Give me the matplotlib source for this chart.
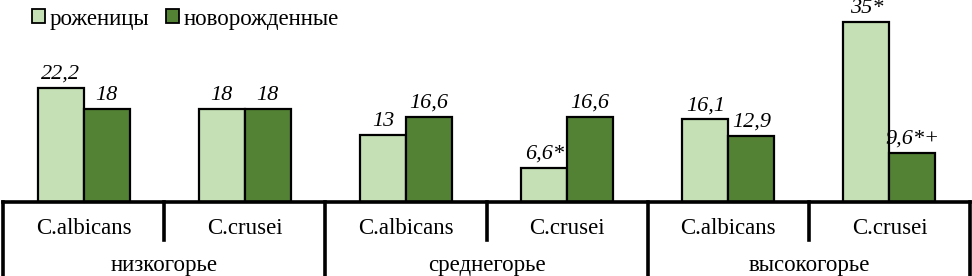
import matplotlib.pyplot as plt
import numpy as np
from matplotlib.patches import Patch
from matplotlib.transforms import blended_transform_factory

plt.rcParams['font.family'] = ['Liberation Serif', 'DejaVu Serif']

species = ["C.albicans", "C.crusei", "C.albicans", "C.crusei", "C.albicans", "C.crusei"]
zones = ["низкогорье", "среднегорье", "высокогорье"]
mothers = [22.2, 18, 13, 6.6, 16.1, 35]
newborns = [18, 18, 16.6, 16.6, 12.9, 9.6]
mothers_lbl = ["22,2", "18", "13", "6,6*", "16,1", "35*"]
newborns_lbl = ["18", "18", "16,6", "16,6", "12,9", "9,6*+"]
series_names = ["роженицы", "новорожденные"]

light = "#c5e0b4"
dark = "#548235"

W, H = 972, 276
fig = plt.figure(figsize=(W / 100, H / 100), dpi=100)
# axes: x from 3 to 970 px, y from 0 to 202 px (top)
ax = fig.add_axes([3 / W, (H - 202) / H, 967 / W, 202 / H])

x = np.arange(len(species))
bw = 0.285
ax.bar(x - bw / 2, mothers, bw, color=light, edgecolor="black", lw=1.6, zorder=2)
ax.bar(x + bw / 2, newborns, bw, color=dark, edgecolor="black", lw=1.6, zorder=2)

for xi, v, t in zip(x, mothers, mothers_lbl):
    ax.text(xi - bw / 2, v + 0.8, t, ha="center", va="bottom",
            fontsize=16, style="italic")
for xi, v, t in zip(x, newborns, newborns_lbl):
    ax.text(xi + bw / 2, v + 0.8, t, ha="center", va="bottom",
            fontsize=16, style="italic")

ax.set_xlim(-0.5, len(species) - 0.5)
ax.set_ylim(0, 39.3)
ax.axis("off")

# baseline and category frame below the plot
tr = blended_transform_factory(ax.transData, fig.transFigure)
def fy(py):
    return 1 - py / H

ax.plot([-0.5, len(species) - 0.5], [fy(202), fy(202)], transform=tr,
        color="black", lw=2.6, clip_on=False, zorder=3)
for i in range(len(species) + 1):
    b = i - 0.5
    bottom = 276 if i % 2 == 0 else 240
    ax.plot([b, b], [fy(202), fy(bottom)], transform=tr, color="black",
            lw=2.6, clip_on=False)

for xi, s in zip(x, species):
    ax.text(xi, fy(228), s, transform=tr, ha="center", va="center", fontsize=16.5)
for j, z in enumerate(zones):
    ax.text(2 * j + 0.5, fy(266), z, transform=tr, ha="center", va="center",
            fontsize=16.5)

handles = [Patch(facecolor=light, edgecolor="black", lw=1.3),
           Patch(facecolor=dark, edgecolor="black", lw=1.3)]
fig.legend(handles, series_names, loc="center left",
           bbox_to_anchor=(23 / W, fy(19)), ncol=2, frameon=False,
           fontsize=16.5, handlelength=0.55, handleheight=0.55,
           handletextpad=0.2, columnspacing=0.75, borderaxespad=0)

fig.savefig("out.png", dpi=100)
